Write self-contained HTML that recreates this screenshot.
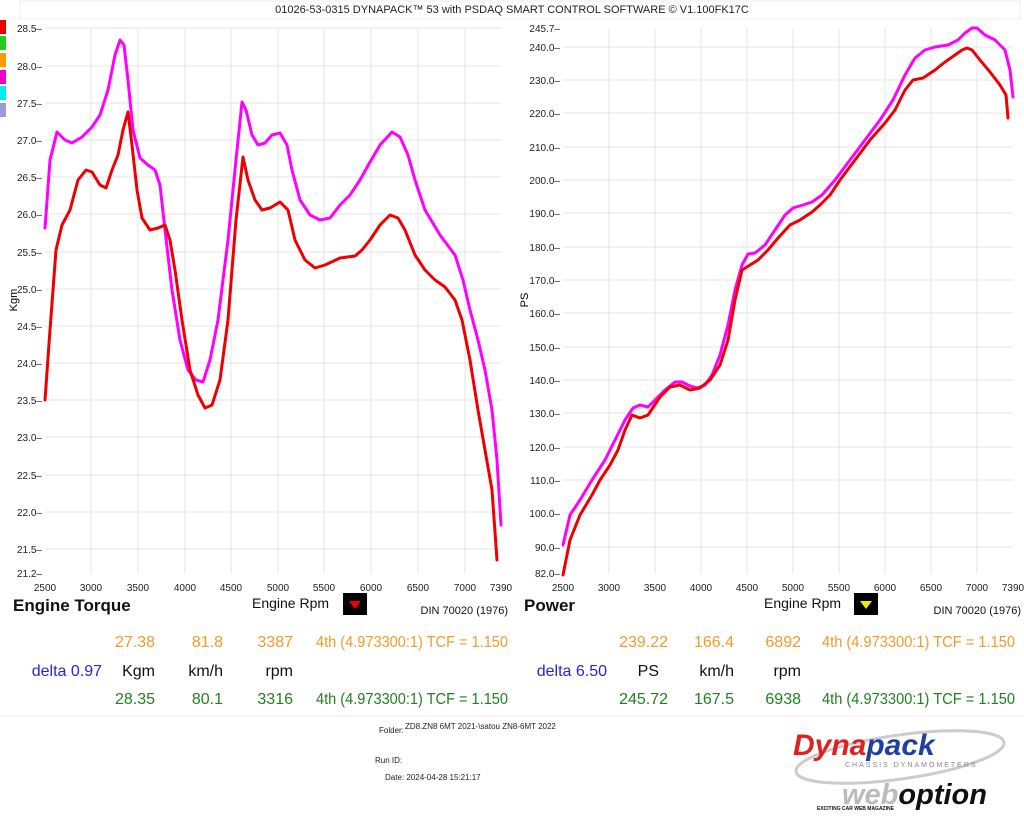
<!DOCTYPE html>
<html><head><meta charset="utf-8"><style>
body{margin:0;background:#fff;width:1024px;height:819px;overflow:hidden}
svg{display:block;font-family:"Liberation Sans",Arial,sans-serif}
</style></head><body>
<svg width="1024" height="819" viewBox="0 0 1024 819">
<rect width="1024" height="819" fill="#fff"/>
<rect x="20" y="1" width="1000" height="18" fill="#fff" stroke="#eee"/>
<text x="512" y="13" font-size="11" text-anchor="middle" fill="#222">01026-53-0315 DYNAPACK™ 53 with PSDAQ SMART CONTROL SOFTWARE © V1.100FK17C</text>
<rect x="0" y="20" width="6" height="14" fill="#e00"/><rect x="0" y="36" width="6" height="14" fill="#2c2"/><rect x="0" y="53" width="6" height="14" fill="#f90"/><rect x="0" y="70" width="6" height="14" fill="#e0c"/><rect x="0" y="86" width="6" height="14" fill="#0ee"/><rect x="0" y="103" width="6" height="14" fill="#99d"/>
<g stroke="#e4e4e4" stroke-width="1">
<line x1="45" y1="28" x2="501" y2="28"/><line x1="45" y1="66" x2="501" y2="66"/><line x1="45" y1="103" x2="501" y2="103"/><line x1="45" y1="140" x2="501" y2="140"/><line x1="45" y1="177" x2="501" y2="177"/><line x1="45" y1="214" x2="501" y2="214"/><line x1="45" y1="252" x2="501" y2="252"/><line x1="45" y1="289" x2="501" y2="289"/><line x1="45" y1="326" x2="501" y2="326"/><line x1="45" y1="363" x2="501" y2="363"/><line x1="45" y1="400" x2="501" y2="400"/><line x1="45" y1="437" x2="501" y2="437"/><line x1="45" y1="475" x2="501" y2="475"/><line x1="45" y1="512" x2="501" y2="512"/><line x1="45" y1="549" x2="501" y2="549"/>
<line x1="91" y1="28" x2="91" y2="573"/><line x1="138" y1="28" x2="138" y2="573"/><line x1="185" y1="28" x2="185" y2="573"/><line x1="231" y1="28" x2="231" y2="573"/><line x1="278" y1="28" x2="278" y2="573"/><line x1="324" y1="28" x2="324" y2="573"/><line x1="371" y1="28" x2="371" y2="573"/><line x1="418" y1="28" x2="418" y2="573"/><line x1="465" y1="28" x2="465" y2="573"/>
<line x1="563" y1="47" x2="1013" y2="47"/><line x1="563" y1="80" x2="1013" y2="80"/><line x1="563" y1="113" x2="1013" y2="113"/><line x1="563" y1="147" x2="1013" y2="147"/><line x1="563" y1="180" x2="1013" y2="180"/><line x1="563" y1="213" x2="1013" y2="213"/><line x1="563" y1="247" x2="1013" y2="247"/><line x1="563" y1="280" x2="1013" y2="280"/><line x1="563" y1="313" x2="1013" y2="313"/><line x1="563" y1="347" x2="1013" y2="347"/><line x1="563" y1="380" x2="1013" y2="380"/><line x1="563" y1="413" x2="1013" y2="413"/><line x1="563" y1="447" x2="1013" y2="447"/><line x1="563" y1="480" x2="1013" y2="480"/><line x1="563" y1="513" x2="1013" y2="513"/><line x1="563" y1="547" x2="1013" y2="547"/>
<line x1="609" y1="28" x2="609" y2="573"/><line x1="655" y1="28" x2="655" y2="573"/><line x1="701" y1="28" x2="701" y2="573"/><line x1="747" y1="28" x2="747" y2="573"/><line x1="793" y1="28" x2="793" y2="573"/><line x1="839" y1="28" x2="839" y2="573"/><line x1="885" y1="28" x2="885" y2="573"/><line x1="931" y1="28" x2="931" y2="573"/><line x1="977" y1="28" x2="977" y2="573"/>
</g>
<g font-size="10" fill="#222" text-anchor="end">
<text x="42" y="32">28.5–</text><text x="42" y="70">28.0–</text><text x="42" y="107">27.5–</text><text x="42" y="144">27.0–</text><text x="42" y="181">26.5–</text><text x="42" y="218">26.0–</text><text x="42" y="256">25.5–</text><text x="42" y="293">25.0–</text><text x="42" y="330">24.5–</text><text x="42" y="367">24.0–</text><text x="42" y="404">23.5–</text><text x="42" y="441">23.0–</text><text x="42" y="479">22.5–</text><text x="42" y="516">22.0–</text><text x="42" y="553">21.5–</text><text x="42" y="577">21.2–</text>
<text x="560" y="32">245.7–</text><text x="560" y="51">240.0–</text><text x="560" y="84">230.0–</text><text x="560" y="117">220.0–</text><text x="560" y="151">210.0–</text><text x="560" y="184">200.0–</text><text x="560" y="217">190.0–</text><text x="560" y="251">180.0–</text><text x="560" y="284">170.0–</text><text x="560" y="317">160.0–</text><text x="560" y="351">150.0–</text><text x="560" y="384">140.0–</text><text x="560" y="417">130.0–</text><text x="560" y="451">120.0–</text><text x="560" y="484">110.0–</text><text x="560" y="517">100.0–</text><text x="560" y="551">90.0–</text><text x="560" y="577">82.0–</text>
</g>
<g font-size="10" fill="#222" text-anchor="middle">
<text x="45" y="591">2500</text><text x="91" y="591">3000</text><text x="138" y="591">3500</text><text x="185" y="591">4000</text><text x="231" y="591">4500</text><text x="278" y="591">5000</text><text x="324" y="591">5500</text><text x="371" y="591">6000</text><text x="418" y="591">6500</text><text x="465" y="591">7000</text><text x="501" y="591">7390</text>
<text x="563" y="591">2500</text><text x="609" y="591">3000</text><text x="655" y="591">3500</text><text x="701" y="591">4000</text><text x="747" y="591">4500</text><text x="793" y="591">5000</text><text x="839" y="591">5500</text><text x="885" y="591">6000</text><text x="931" y="591">6500</text><text x="977" y="591">7000</text><text x="1013" y="591">7390</text>
</g>
<text x="17" y="300" font-size="11" transform="rotate(-90 17 300)" text-anchor="middle">Kgm</text>
<text x="528" y="300" font-size="11" transform="rotate(-90 528 300)" text-anchor="middle">PS</text>
<g fill="none" stroke-width="3" stroke-linejoin="round" stroke-linecap="round">
<polyline stroke="#f0f" points="45,228 50,160 57,132 65,140 72,143 82,137 92,127 100,115 108,90 115,55 120,40 124,45 128,80 133,130 140,158 148,165 155,170 160,185 165,230 172,290 180,340 188,370 196,380 203,382 210,360 218,320 228,240 236,160 242,102 246,110 252,135 258,145 265,143 272,135 280,133 287,145 292,170 300,200 310,215 320,220 330,218 340,205 350,195 360,180 370,162 380,145 392,132 400,137 408,155 415,180 425,210 440,235 455,255 463,280 470,310 478,340 485,370 492,410 497,460 501,525"/>
<polyline stroke="#e00" points="45,400 50,330 56,250 62,225 70,210 78,180 86,170 92,172 100,185 106,188 112,170 118,155 123,130 128,112 132,145 137,190 142,218 150,230 158,228 165,225 170,240 175,270 182,320 190,370 198,395 205,408 212,405 220,380 228,320 236,220 243,157 248,180 255,200 262,210 270,208 280,202 288,210 295,240 305,260 315,268 325,265 340,258 355,256 362,250 370,240 380,225 390,215 398,218 405,230 415,255 425,270 435,280 445,287 455,300 462,320 470,360 478,410 485,450 492,490 497,560"/>
<polyline stroke="#f0f" points="563,545 570,515 580,500 592,480 605,460 615,440 625,420 633,408 640,405 648,407 655,400 665,390 675,382 682,382 690,386 697,388 705,385 712,375 720,355 728,325 735,290 742,265 748,254 755,253 765,245 775,230 785,215 793,208 803,205 812,202 822,195 835,180 850,160 865,140 880,120 893,100 905,75 915,58 925,50 935,47 948,45 958,40 965,33 972,28 977,28 985,35 995,40 1005,50 1010,70 1013,97"/>
<polyline stroke="#e00" points="563,575 570,540 580,515 592,495 600,480 610,465 618,450 625,430 632,415 640,418 648,415 660,397 670,387 680,385 690,390 700,388 710,380 720,365 728,340 735,300 742,270 750,265 758,260 768,250 778,238 790,225 800,220 812,212 820,205 830,195 840,180 855,160 870,140 885,123 895,110 905,90 913,80 923,78 935,70 945,62 955,55 962,50 967,48 972,50 980,60 990,72 1000,85 1006,95 1008,118"/>
</g>
<text x="13" y="611" font-size="17" font-weight="bold" fill="#111">Engine Torque</text>
<text x="252" y="608" font-size="14" fill="#111">Engine Rpm</text>
<rect x="343" y="593" width="24" height="22" fill="#000"/><polygon points="349,601 361,601 355,609" fill="#e00"/>
<text x="508" y="614" font-size="11" fill="#111" text-anchor="end">DIN 70020 (1976)</text>
<text x="524" y="611" font-size="17" font-weight="bold" fill="#111">Power</text>
<text x="764" y="608" font-size="14" fill="#111">Engine Rpm</text>
<rect x="854" y="593" width="24" height="22" fill="#000"/><polygon points="860,601 872,601 866,609" fill="#ee0"/>
<text x="1021" y="614" font-size="11" fill="#111" text-anchor="end">DIN 70020 (1976)</text>
<g font-size="16" text-anchor="end">
<text x="155" y="647" fill="#f39a2a">27.38</text><text x="223" y="647" fill="#f39a2a">81.8</text><text x="293" y="647" fill="#f39a2a">3387</text>
<text x="102" y="676" fill="#2424e0">delta 0.97</text><text x="155" y="676" fill="#111">Kgm</text><text x="223" y="676" fill="#111">km/h</text><text x="293" y="676" fill="#111">rpm</text>
<text x="155" y="704" fill="#208020">28.35</text><text x="223" y="704" fill="#208020">80.1</text><text x="293" y="704" fill="#208020">3316</text>
<text x="668" y="647" fill="#f39a2a">239.22</text><text x="734" y="647" fill="#f39a2a">166.4</text><text x="801" y="647" fill="#f39a2a">6892</text>
<text x="607" y="676" fill="#2424e0">delta 6.50</text><text x="659" y="676" fill="#111">PS</text><text x="734" y="676" fill="#111">km/h</text><text x="801" y="676" fill="#111">rpm</text>
<text x="668" y="704" fill="#208020">245.72</text><text x="734" y="704" fill="#208020">167.5</text><text x="801" y="704" fill="#208020">6938</text>
</g>
<g font-size="16">
<text x="316" y="647" fill="#f39a2a" textLength="192" lengthAdjust="spacingAndGlyphs">4th (4.973300:1) TCF = 1.150</text>
<text x="316" y="704" fill="#208020" textLength="192" lengthAdjust="spacingAndGlyphs">4th (4.973300:1) TCF = 1.150</text>
<text x="822" y="647" fill="#f39a2a" textLength="193" lengthAdjust="spacingAndGlyphs">4th (4.973300:1) TCF = 1.150</text>
<text x="822" y="704" fill="#208020" textLength="193" lengthAdjust="spacingAndGlyphs">4th (4.973300:1) TCF = 1.150</text>
</g>
<line x1="0" y1="716" x2="1024" y2="716" stroke="#eee"/>
<g font-size="8" fill="#222">
<text x="379" y="733">Folder:</text><text x="405" y="729">ZD8.ZN8 6MT 2021-\satou ZN8-6MT 2022</text>
<text x="375" y="763">Run ID:</text>
<text x="385" y="780">Date: 2024-04-28 15:21:17</text>
</g>
<ellipse cx="900" cy="757" rx="105" ry="22" fill="none" stroke="#ccc" stroke-width="3" transform="rotate(-8 900 757)"/>
<text x="793" y="755" font-size="30" font-weight="bold" font-style="italic" fill="#e02020">Dyna<tspan fill="#2040a0">pack</tspan></text>
<text x="845" y="767" font-size="7" fill="#888" letter-spacing="2">CHASSIS DYNAMOMETERS</text>
<text x="842" y="804" font-size="29" font-weight="bold" font-style="italic" fill="#bbb">web<tspan fill="#111">option</tspan></text>
<text x="817" y="810" font-size="5" font-weight="bold" fill="#111">EXCITING CAR WEB MAGAZINE</text>
</svg>
</body></html>
